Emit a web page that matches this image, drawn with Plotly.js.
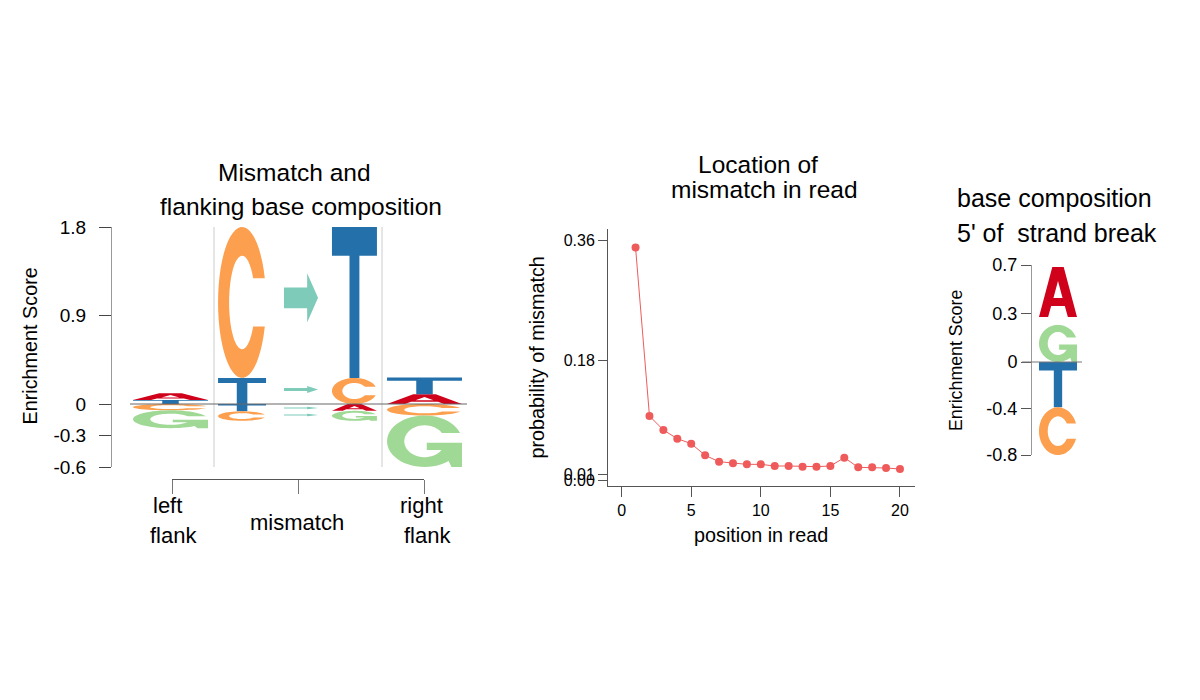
<!DOCTYPE html>
<html><head><meta charset="utf-8">
<script src="https://cdn.plot.ly/plotly-3.0.1.min.js"></script>
<style>html,body{margin:0;padding:0;background:#fff}#chart{width:1200px;height:700px}</style>
</head><body><div id="chart"></div>
<script>
// ---------------- data ----------------
// Panel 2: location of mismatch in read
const readPositions = [1,2,3,4,5,6,7,8,9,10,11,12,13,14,15,16,17,18,19,20];
const mismatchProbability = [0.350,0.097,0.076,0.063,0.0555,0.038,0.0285,0.026,0.0245,0.0245,
                             0.022,0.022,0.021,0.021,0.022,0.0345,0.020,0.020,0.019,0.0175];
const probTickVals = [0, 0.01, 0.18, 0.36];
const probTickText = ['0.00', '0.01', '0.18', '0.36'];
const posTickVals = [0, 5, 10, 15, 20];

// Panel 1: mismatch and flanking base composition (enrichment scores)
const enrichUpTickVals = [0, 0.9, 1.8];
const enrichUpTickText = ['0', '0.9', '1.8'];
const enrichDownTickVals = [-0.3, -0.6];
const enrichDownTickText = ['-0.3', '-0.6'];
const regionTickVals = [1, 2, 3];
const regionLabelLines = [['left', 'flank'], ['mismatch'], ['right', 'flank']];

const leftUpBases = ['T', 'A'];    const leftUpScores = [0.04, 0.07];
const leftDownBases = ['C', 'G'];  const leftDownScores = [0.06, 0.17];
const refUpBases = ['T', 'C'];     const refUpScores = [0.265, 1.535];
const refDownBases = ['T', 'C'];   const refDownScores = [0.07, 0.09];
const readUpBases = ['C', 'T'];    const readUpScores = [0.265, 1.535];
const readDownBases = ['A', 'G'];  const readDownScores = [0.065, 0.095];
const rightUpBases = ['A', 'T'];   const rightUpScores = [0.10, 0.17];
const rightDownBases = ['C', 'G']; const rightDownScores = [0.11, 0.49];

const substitutionTypes = ['C>T', 'T>C', 'T>A', 'C>G'];
const substitutionCentres = [1.08, 0.147, -0.038, -0.105];
const substitutionSizes = [0.50, 0.07, 0.022, 0.022];

// Panel 3: base composition 5' of strand break
const breakUpBases = ['G', 'A'];   const breakUpScores = [0.26, 0.35];
const breakDownBases = ['T', 'C']; const breakDownScores = [0.38, 0.40];
const breakUpTickVals = [0, 0.34, 0.68];
const breakUpTickText = ['0', '0.3', '0.7'];
const breakDownTickVals = [-0.39, -0.78];
const breakDownTickText = ['-0.4', '-0.8'];

// ---------------- style ----------------
const W = 1200, H = 700;
const px = v => v / W;
const py = v => 1 - v / H;
const FONT = 'Liberation Sans, Arial, Helvetica, sans-serif';
const baseColours = {A: '#d0021b', C: '#fc9f4f', G: '#a0d995', T: '#2370ab'};
const arrowColour = '#7fcbb9';
const pointColour = '#ef5b5b';

// glyph templates in a unit box (u to the right, v upwards)
const TAU = Math.PI * 2;
function arc(rx, ry, a0, a1, n) {
  const pts = [];
  for (let i = 0; i <= n; i++) {
    const a = a0 + (a1 - a0) * i / n;
    pts.push([0.5 + rx * Math.cos(a), 0.5 + ry * Math.sin(a)]);
  }
  return pts;
}
const IRX = 0.27, IRY = 0.31, CUT = 0.16;
function glyph(base) {
  const ao = Math.asin(CUT / 0.5), ai = Math.asin(CUT / IRY);
  if (base === 'T') return [[[0,1],[1,1],[1,0.81],[0.61,0.81],[0.61,0],[0.39,0],[0.39,0.81],[0,0.81]]];
  if (base === 'A') return [
    [[0,0],[0.35,1],[0.65,1],[1,0],[0.76,0],[0.68,0.22],[0.32,0.22],[0.24,0]],
    [[0.38,0.38],[0.5,0.72],[0.62,0.38]]];
  if (base === 'C') return [arc(0.5, 0.5, ao, TAU - ao, 48).concat(arc(IRX, IRY, TAU - ai, ai, 40))];
  if (base === 'G') {
    const barLow = 0.33;
    const ab = Math.asin((0.5 - barLow) / IRY);
    return [arc(0.5, 0.5, ao, TAU - 50 * Math.PI / 180, 44)
      .concat([[0.86,0],[1,0],[1,0.47],[0.53,0.47],[0.53,barLow]])
      .concat(arc(IRX, IRY, TAU - ab, ai, 40))];
  }
  if (base === 'arrow') return [[[0,0.29],[0.68,0.29],[0.68,0],[1,0.5],[0.68,1],[0.68,0.71],[0,0.71]]];
}
function boxPath(polys, x0, x1, y0, y1) {
  return polys.map(poly => 'M' + poly.map(([u, v]) =>
    (x0 + u * (x1 - x0)).toFixed(4) + ',' + (y0 + v * (y1 - y0)).toFixed(5)).join('L') + 'Z').join('');
}
function letterShape(base, polys, colour, cx, w, lo, hi, xref, yref) {
  return {type: 'path', xref: xref, yref: yref, path: boxPath(polys, cx - w / 2, cx + w / 2, lo, hi),
          fillcolor: colour, line: {width: 0}, fillrule: 'evenodd', layer: 'above'};
}
function stackShapes(bases, scores, dir, gap, cx, w, xref, yref) {
  let cur = 0; const out = [];
  bases.forEach((b, i) => {
    const end = cur + dir * scores[i];
    out.push(letterShape(b, glyph(b), baseColours[b], cx, w, Math.min(cur, end), Math.max(cur, end), xref, yref));
    cur = end + dir * gap;
  });
  return out;
}

// ---------------- shapes ----------------
const shapes = [];
// region separators (panel 1)
[4 / 3, 8 / 3].forEach(xv => shapes.push({type: 'line', xref: 'x', yref: 'paper', x0: xv, x1: xv,
  y0: py(467), y1: py(227), line: {color: '#cccccc', width: 1}, layer: 'below'}));

const logoColumns = [
  {ub: leftUpBases, us: leftUpScores, db: leftDownBases, ds: leftDownScores, cx: 0.988, w: 0.595},
  {ub: refUpBases, us: refUpScores, db: refDownBases, ds: refDownScores, cx: 1.556, w: 0.381},
  {ub: readUpBases, us: readUpScores, db: readDownBases, ds: readDownScores, cx: 2.448, w: 0.357},
  {ub: rightUpBases, us: rightUpScores, db: rightDownBases, ds: rightDownScores, cx: 3.004, w: 0.595}
];
logoColumns.forEach(c => {
  shapes.push(...stackShapes(c.ub, c.us, 1, 0, c.cx, c.w, 'x', 'y'));
  shapes.push(...stackShapes(c.db, c.ds, -1, 0, c.cx, c.w, 'x', 'y2'));
});
substitutionTypes.forEach((t, i) => {
  const c = substitutionCentres[i], s = substitutionSizes[i];
  shapes.push(letterShape('arrow', glyph('arrow'), arrowColour, 2.024, 0.27, c - s / 2, c + s / 2, 'x', c >= 0 ? 'y' : 'y2'));
});
shapes.push({type: 'line', xref: 'x domain', yref: 'paper', x0: 0, x1: 1, y0: py(404), y1: py(404),
  line: {color: '#666666', width: 1}, layer: 'above'});

// panel 3 logo
shapes.push(...stackShapes(breakUpBases, breakUpScores, 1, 0.056, 0.578, 0.594, 'x4', 'y4'));
shapes.push(...stackShapes(breakDownBases, breakDownScores, -1, 0, 0.578, 0.594, 'x4', 'y5'));
shapes.push({type: 'line', xref: 'x4', yref: 'paper', x0: 0.016, x1: 0.953, y0: py(362), y1: py(362),
  line: {color: '#777777', width: 1}, layer: 'above'});

// ---------------- annotations ----------------
function ann(text, x, y, size, extra) {
  return Object.assign({text: text, x: px(x), y: py(y), xref: 'paper', yref: 'paper', showarrow: false,
    xanchor: 'center', yanchor: 'middle', font: {family: FONT, size: size, color: '#000'}}, extra || {});
}
const annotations = [
  ann('Mismatch and', 294, 172, 24.5),
  ann('flanking base composition', 301, 206.5, 24.5),
  ann('Location of', 757.5, 164, 24.5),
  ann('mismatch in read', 764, 190, 24.5),
  ann('base composition', 1054, 197.5, 25),
  ann("5' of\u00a0 strand break", 1057, 233, 25),
  ann('Enrichment Score', 29, 346.5, 19.8, {textangle: -90}),
  ann('probability of mismatch', 536, 357.5, 19.8, {textangle: -90}),
  ann('position in read', 760.7, 535, 19.8),
  ann('Enrichment Score', 956, 361, 17.8, {textangle: -90})
];
const labelPos = [[[167, 505], [173.7, 535.6]], [[297.2, 522.3]], [[421, 505], [427.5, 535.6]]];
regionLabelLines.forEach((lines, i) => lines.forEach((t, j) =>
  annotations.push(ann(t, labelPos[i][j][0], labelPos[i][j][1], 22))));

// ---------------- traces ----------------
const dummy = (xa, ya) => ({type: 'scatter', x: [], y: [], xaxis: xa, yaxis: ya, hoverinfo: 'skip', showlegend: false});
const traces = [
  dummy('x', 'y'), dummy('x', 'y2'), dummy('x2', 'y'), dummy('x4', 'y4'), dummy('x4', 'y5'),
  {type: 'scatter', mode: 'lines+markers', x: readPositions, y: mismatchProbability, xaxis: 'x3', yaxis: 'y3',
   line: {color: pointColour, width: 1}, marker: {color: pointColour, size: 8}, cliponaxis: false, showlegend: false}
];

// ---------------- layout ----------------
const tickFont = s => ({family: FONT, size: s, color: '#000'});
const base = {showgrid: false, zeroline: false, fixedrange: true};
const layout = {
  width: W, height: H, margin: {l: 0, r: 0, t: 0, b: 0}, showlegend: false,
  paper_bgcolor: '#fff', plot_bgcolor: 'rgba(0,0,0,0)',
  xaxis: Object.assign({}, base, {domain: [px(130), px(467)], range: [1 + (130 - 172) / 126, 1 + (467 - 172) / 126],
    visible: false, anchor: 'y'}),
  xaxis2: Object.assign({}, base, {domain: [px(172), px(424)], range: [1, 3], anchor: 'free', position: py(479),
    showline: true, linecolor: '#555', linewidth: 1, ticks: 'outside', ticklen: 14, tickcolor: '#777',
    tickvals: regionTickVals, showticklabels: false}),
  yaxis: Object.assign({}, base, {domain: [py(404), py(227)], range: [0, 1.8], anchor: 'free', position: px(111),
    showline: true, linecolor: '#999', ticks: 'outside', ticklen: 12, tickcolor: '#444',
    tickvals: enrichUpTickVals, ticktext: enrichUpTickText, tickfont: tickFont(19), ticklabelstandoff: 9}),
  yaxis2: Object.assign({}, base, {domain: [py(467), py(404)], range: [-0.6, 0], anchor: 'free', position: px(111),
    showline: true, linecolor: '#999', ticks: 'outside', ticklen: 12, tickcolor: '#444',
    tickvals: enrichDownTickVals, ticktext: enrichDownTickText, tickfont: tickFont(19), ticklabelstandoff: 9}),
  xaxis3: Object.assign({}, base, {domain: [px(608), px(915)], range: [-0.98, 21.08], anchor: 'y3',
    showline: true, linecolor: '#555', ticks: 'outside', ticklen: 10, tickcolor: '#555',
    tickvals: posTickVals, tickfont: tickFont(16)}),
  yaxis3: Object.assign({}, base, {domain: [py(486), py(229)], range: [-0.008, 0.3776], anchor: 'x3',
    showline: true, linecolor: '#555', ticks: 'outside', ticklen: 9, tickcolor: '#555',
    tickvals: probTickVals, ticktext: probTickText, tickfont: tickFont(16)}),
  xaxis4: Object.assign({}, base, {domain: [px(1021), px(1085)], range: [0, 1], visible: false, anchor: 'y4'}),
  yaxis4: Object.assign({}, base, {domain: [py(362), py(265)], range: [0, 0.68], anchor: 'free', position: px(1031),
    showline: true, linecolor: '#999', ticks: 'outside', ticklen: 10, tickcolor: '#555',
    tickvals: breakUpTickVals, ticktext: breakUpTickText, tickfont: tickFont(18)}),
  yaxis5: Object.assign({}, base, {domain: [py(455), py(362)], range: [-0.78, 0], anchor: 'free', position: px(1031),
    showline: true, linecolor: '#999', ticks: 'outside', ticklen: 10, tickcolor: '#555',
    tickvals: breakDownTickVals, ticktext: breakDownTickText, tickfont: tickFont(18)}),
  shapes: shapes,
  annotations: annotations
};

Plotly.newPlot('chart', traces, layout, {staticPlot: true, displayModeBar: false});
</script>
</body></html>
